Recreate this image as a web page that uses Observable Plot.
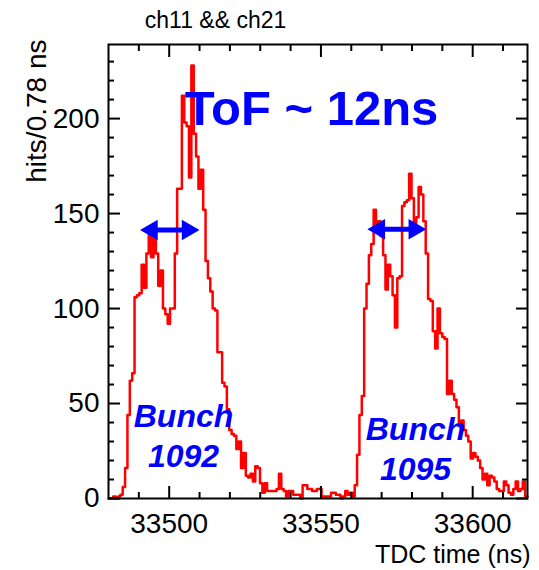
<!DOCTYPE html>
<html>
<head>
<meta charset="utf-8">
<script src="https://cdn.jsdelivr.net/npm/d3@7"></script>
<script src="https://cdn.jsdelivr.net/npm/@observablehq/plot@0.6"></script>
<style>
  html, body { margin: 0; padding: 0; background: #fff; }
  #chart svg { display: block; }
</style>
</head>
<body>
<div id="chart"></div>
<script>
// ---- data ----
const tdcStart = 33480;      // ns, left edge of first bin
const binWidth = 0.78;       // ns per bin
const counts = [
  0, 0, 1, 0, 1, 2, 6, 16, 44, 62,
  66, 106, 107, 108, 123, 111, 129, 139, 127, 137,
  129, 112, 120, 100, 97, 92, 100, 100, 129, 163,
  163, 212, 198, 196, 169, 228, 192, 180, 163, 173,
  152, 125, 116, 109, 100, 99, 77, 77, 61, 59,
  47, 36, 34, 33, 26, 30, 16, 24, 12, 11,
  13, 9, 17, 16, 8, 3, 8, 4, 4, 4,
  4, 5, 13, 5, 4, 1, 4, 4, 2, 2,
  2, 0, 7, 7, 5, 5, 4, 4, 5, 5,
  1, 1, 1, 1, 3, 3, 2, 2, 0, 1,
  4, 2, 3, 1, 7, 23, 44, 54, 100, 113,
  128, 134, 152, 143, 146, 138, 128, 110, 123, 117,
  107, 90, 116, 117, 154, 156, 157, 171, 158, 145,
  148, 164, 160, 146, 129, 105, 104, 88, 79, 100,
  87, 85, 84, 55, 62, 55, 52, 48, 38, 41,
  36, 33, 30, 21, 24, 22, 20, 16, 10, 13,
  7, 12, 11, 9, 5, 4, 4, 9, 7, 3,
  2, 5, 9, 4, 5, 9, 1
];
const xMajorTicks = [33500, 33550, 33600];
const xMinorTicks = [33490, 33510, 33520, 33530, 33540, 33560, 33570, 33580, 33590, 33610];
const yMajorTicks = [0, 50, 100, 150, 200];
const yMinorTicks = [10, 20, 30, 40, 60, 70, 80, 90, 110, 120, 130, 140, 160, 170, 180, 190, 210, 220, 230];
const arrowX1 = [33490.4, 33565.3];   // ns, left arrow tips
const arrowX2 = [33510.0, 33584.7];   // ns, right arrow tips
const arrowY  = [141.3, 141.7];       // hits
const titleText = "ch11 && ch21";
const xTitle = "TDC time (ns)";
const yTitle = "hits/0.78 ns";
const tofText = "ToF ~ 12ns";
const bunchLabels = ["Bunch\n1092", "Bunch\n1095"];

// ---- derived tables ----
const nBins = counts.length;
const xMax = tdcStart + nBins * binWidth;
const hist = counts.map((c, i) => ({x: tdcStart + i * binWidth, y: c}));
hist.push({x: xMax, y: counts[nBins - 1]});
const arrows = arrowX1.map((x1, i) => ({x1, x2: arrowX2[i], y: arrowY[i]}));

const blue = "#0000ff";
const red = "#ff0000";
const font = "'Liberation Sans', Arial, Helvetica, sans-serif";
const fmt = d3.format("d");

const chart = Plot.plot({
  width: 539,
  height: 570,
  marginLeft: 108,
  marginRight: 12,
  marginTop: 44,
  marginBottom: 72,
  style: {fontFamily: font, background: "#fff", color: "#000"},
  x: {domain: [tdcStart, xMax], axis: null},
  y: {domain: [0, 239], axis: null},
  marks: [
    // histogram outline
    Plot.line(hist, {x: "x", y: "y", curve: "step-after", stroke: red, strokeWidth: 2.5}),
    // frame
    Plot.frame({stroke: "#000", strokeWidth: 2}),
    // inward ticks, all four sides
    Plot.axisX(xMajorTicks, {anchor: "bottom", tickSize: -12, strokeWidth: 2, fill: "none", label: null}),
    Plot.axisX(xMinorTicks, {anchor: "bottom", tickSize: -6, strokeWidth: 2, fill: "none", label: null}),
    Plot.axisX(xMajorTicks, {anchor: "top", tickSize: -12, strokeWidth: 2, fill: "none", label: null}),
    Plot.axisX(xMinorTicks, {anchor: "top", tickSize: -6, strokeWidth: 2, fill: "none", label: null}),
    Plot.axisY(yMajorTicks, {anchor: "left", tickSize: -12, strokeWidth: 2, fill: "none", label: null}),
    Plot.axisY(yMinorTicks, {anchor: "left", tickSize: -6, strokeWidth: 2, fill: "none", label: null}),
    Plot.axisY(yMajorTicks, {anchor: "right", tickSize: -12, strokeWidth: 2, fill: "none", label: null}),
    Plot.axisY(yMinorTicks, {anchor: "right", tickSize: -6, strokeWidth: 2, fill: "none", label: null}),
    // tick labels
    Plot.axisX(xMajorTicks, {anchor: "bottom", tickSize: 0, tickPadding: 15, fontSize: 28, tickFormat: fmt, label: null}),
    Plot.axisY(yMajorTicks, {anchor: "left", tickSize: 0, tickPadding: 9, fontSize: 28, tickFormat: fmt, label: null}),
    // axis titles
    Plot.text([xTitle], {frameAnchor: "bottom-right", dx: 3, dy: 64, textAnchor: "end", lineAnchor: "bottom", fontSize: 25, fill: "#000"}),
    Plot.text([yTitle], {frameAnchor: "top-left", dx: -71, dy: -5, rotate: -90, textAnchor: "end", lineAnchor: "middle", fontSize: 28, fill: "#000"}),
    // title
    Plot.text([titleText], {frameAnchor: "top-left", dx: 107, dy: -17, textAnchor: "middle", lineAnchor: "bottom", fontSize: 23, fill: "#000"}),
    // annotations
    Plot.text([tofText], {frameAnchor: "top-left", dx: 203, dy: 80, textAnchor: "middle", lineAnchor: "bottom", fontSize: 49, fontWeight: "bold", fill: blue}),
    Plot.text([bunchLabels[0]], {frameAnchor: "bottom-left", dx: 75, dy: -32, textAnchor: "middle", lineAnchor: "bottom", lineHeight: 1.22, fontSize: 32, fontWeight: "bold", fontStyle: "italic", fill: blue}),
    Plot.text([bunchLabels[1]], {frameAnchor: "bottom-left", dx: 307, dy: -19, textAnchor: "middle", lineAnchor: "bottom", lineHeight: 1.22, fontSize: 32, fontWeight: "bold", fontStyle: "italic", fill: blue}),
    // double arrows
    Plot.ruleY(arrows, {y: "y", x1: "x1", x2: "x2", insetLeft: 12, insetRight: 12, stroke: blue, strokeWidth: 5}),
    Plot.dot(arrows, {x: "x1", y: "y", symbol: "triangle", r: 7.6, rotate: -90, dx: 11.8, fill: blue, stroke: "none"}),
    Plot.dot(arrows, {x: "x2", y: "y", symbol: "triangle", r: 7.6, rotate: 90, dx: -11.8, fill: blue, stroke: "none"})
  ]
});
document.getElementById("chart").appendChild(chart);
</script>
</body>
</html>
